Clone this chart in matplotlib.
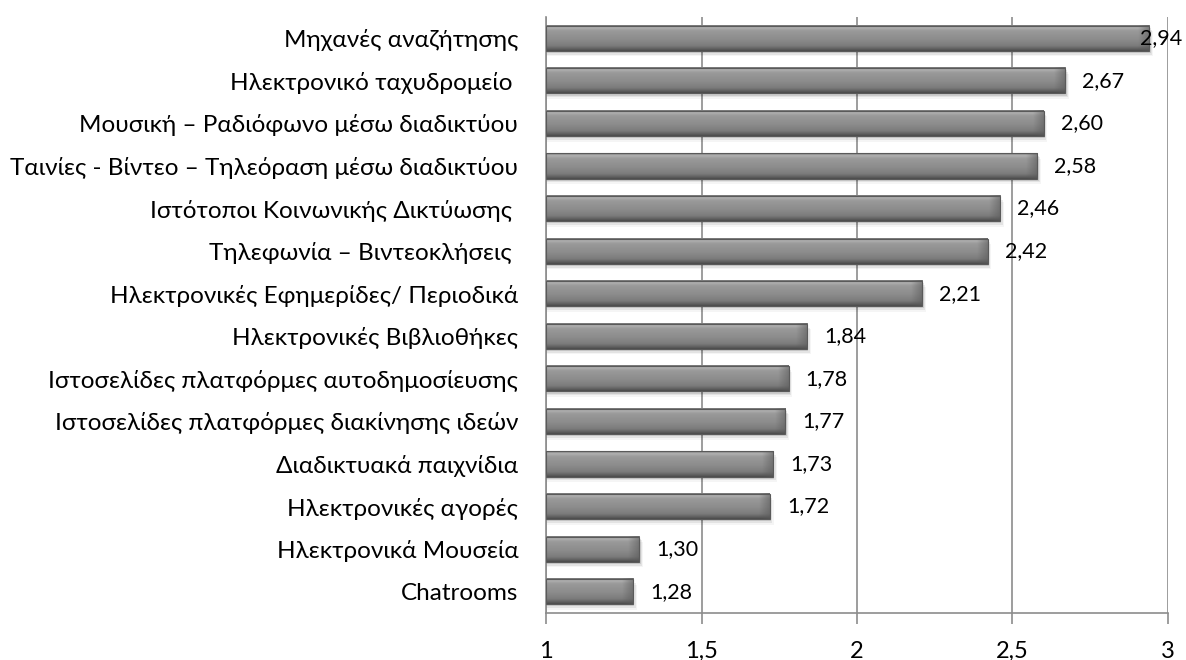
import numpy as np
import matplotlib
matplotlib.use("Agg")
import matplotlib.pyplot as plt
from matplotlib.colors import LinearSegmentedColormap

plt.rcParams['font.family'] = ['Lato', 'DejaVu Sans']

categories = [
    "Μηχανές αναζήτησης",
    "Ηλεκτρονικό ταχυδρομείο ",
    "Μουσική – Ραδιόφωνο μέσω διαδικτύου",
    "Ταινίες - Βίντεο – Τηλεόραση μέσω διαδικτύου",
    "Ιστότοποι Κοινωνικής Δικτύωσης ",
    "Τηλεφωνία – Βιντεοκλήσεις ",
    "Ηλεκτρονικές Εφημερίδες/ Περιοδικά",
    "Ηλεκτρονικές Βιβλιοθήκες",
    "Ιστοσελίδες πλατφόρμες αυτοδημοσίευσης",
    "Ιστοσελίδες πλατφόρμες διακίνησης ιδεών",
    "Διαδικτυακά παιχνίδια",
    "Ηλεκτρονικές αγορές",
    "Ηλεκτρονικά Μουσεία",
    "Chatrooms",
]
values = [2.94, 2.67, 2.60, 2.58, 2.46, 2.42, 2.21, 1.84, 1.78, 1.77, 1.73, 1.72, 1.30, 1.28]
x_ticks = [1, 1.5, 2, 2.5, 3]
x_tick_labels = ["1", "1,5", "2", "2,5", "3"]

fig = plt.figure(figsize=(11.86, 6.60), dpi=100)
ax = fig.add_axes([0.4604, 0.0712, 0.5244, 0.9030])

base = 1.0
bar_h = 0.59
ypos = np.arange(len(categories))

# vertical shading for the bevelled bars (top of image = top of bar)
shade = LinearSegmentedColormap.from_list(
    "bevel",
    [(0.0, "#6e6e6e"), (0.08, "#b4b4b4"), (0.2, "#9a9a9a"), (0.55, "#8c8c8c"),
     (0.8, "#7c7c7c"), (0.93, "#5e5e5e"), (1.0, "#4a4a4a")])
grad = np.linspace(0, 1, 64).reshape(-1, 1)
cap = LinearSegmentedColormap.from_list(
    "cap", [(0, (0.35, 0.35, 0.35, 0.0)), (1, (0.35, 0.35, 0.35, 0.55))])

ax.set_xlim(1, 3)
ax.set_ylim(len(categories) - 0.5, -0.5)

for y, v in zip(ypos, values):
    # soft drop shadow
    for k, a in enumerate([0.10, 0.07, 0.04]):
        d = 0.05 + 0.04 * k
        ax.add_patch(plt.Rectangle((base, y - bar_h / 2 + d), v - base + 0.004 * (k + 1),
                                   bar_h, color="black", alpha=a, lw=0, zorder=2))
    ax.imshow(grad, cmap=shade, aspect="auto", interpolation="bicubic",
              extent=(base, v, y + bar_h / 2, y - bar_h / 2), zorder=3)
    # darker rounded end cap
    ax.imshow(np.linspace(0, 1, 32).reshape(1, -1), cmap=cap, aspect="auto",
              extent=(v - 0.035, v, y + bar_h / 2, y - bar_h / 2), zorder=4)
    ax.add_patch(plt.Rectangle((base, y - bar_h / 2), v - base, bar_h, fill=False,
                               ec="#5a5a5a", lw=0.8, zorder=5))
    label = f"{v:.2f}".replace(".", ",")
    off = 17 if v < 2.9 else -9
    ax.annotate(label, xy=(v, y), xytext=(off, 0), textcoords="offset pixels",
                ha="left", va="center", fontsize=15.5, color="black", zorder=6)

ax.set_yticks(ypos)
ax.set_yticklabels(categories, fontsize=17.5)
ax.set_xticks(x_ticks)
ax.set_xticklabels(x_tick_labels, fontsize=17)

ax.grid(axis="x", color="#8c8c8c", lw=1.2, zorder=1)
ax.set_axisbelow(True)
for s in ["top", "right"]:
    ax.spines[s].set_visible(False)
for s in ["left", "bottom"]:
    ax.spines[s].set_color("#8c8c8c")
    ax.spines[s].set_linewidth(1.2)
ax.tick_params(axis="y", length=0, pad=20)
ax.tick_params(axis="x", length=8, width=1.2, color="#8c8c8c", pad=12)

fig.savefig("out.png", dpi=100)
